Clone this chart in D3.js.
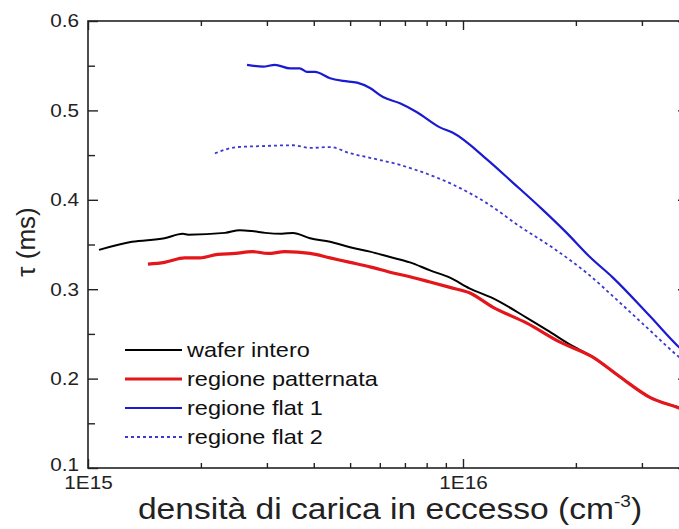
<!DOCTYPE html>
<html>
<head>
<meta charset="utf-8">
<title>Tempo di vita vs densità di carica</title>
<script src="https://cdn.jsdelivr.net/npm/d3@7"></script>
<style>
  body { margin: 0; background: #fff; }
  svg { display: block; font-family: "Liberation Sans", Arial, sans-serif; }
  .axis path { display: none; }
  .axis line { stroke: #222; stroke-width: 1.4; }
  .axis text { fill: #222; font-size: 18.5px; font-family: "Liberation Sans", Arial, sans-serif; }
</style>
</head>
<body>
<svg id="chart"></svg>
<script>
// values (x in cm^-3, tau in ms)
var waferX = [1.07e15, 1.31e15, 1.60e15, 1.79e15, 1.85e15, 2.32e15, 2.54e15, 2.74e15, 2.97e15, 3.29e15, 3.52e15, 3.91e15, 4.42e15, 5.00e15, 5.65e15, 6.39e15, 7.22e15, 8.17e15, 9.23e15, 1.04e16, 1.20e16, 1.48e16, 1.68e16, 1.93e16, 2.22e16, 2.62e16, 3.15e16, 3.77e16];
var waferY = [0.344, 0.353, 0.357, 0.362, 0.361, 0.363, 0.366, 0.365, 0.363, 0.362, 0.363, 0.357, 0.353, 0.347, 0.342, 0.336, 0.330, 0.321, 0.313, 0.301, 0.290, 0.268, 0.254, 0.238, 0.224, 0.202, 0.179, 0.168];

var pattX = [1.445e15, 1.60e15, 1.81e15, 1.99e15, 2.22e15, 2.47e15, 2.74e15, 3.02e15, 3.35e15, 3.91e15, 4.42e15, 5.00e15, 5.65e15, 6.39e15, 7.22e15, 8.17e15, 9.23e15, 1.04e16, 1.20e16, 1.48e16, 1.81e16, 2.22e16, 2.62e16, 3.15e16, 3.77e16, 3.98e16];
var pattY = [0.328, 0.330, 0.335, 0.335, 0.339, 0.340, 0.342, 0.340, 0.342, 0.340, 0.335, 0.330, 0.325, 0.319, 0.314, 0.308, 0.302, 0.296, 0.280, 0.262, 0.241, 0.224, 0.202, 0.179, 0.167, 0.163];

var flat1X = [2.655e15, 2.93e15, 3.15e15, 3.46e15, 3.67e15, 3.84e15, 4.03e15, 4.42e15, 4.79e15, 5.22e15, 5.65e15, 6.12e15, 6.79e15, 7.54e15, 8.68e15, 9.40e15, 1.16e16, 1.36e16, 1.63e16, 1.89e16, 2.18e16, 2.51e16, 3.15e16, 3.77e16, 3.98e16];
var flat1Y = [0.551, 0.549, 0.551, 0.547, 0.547, 0.543, 0.543, 0.536, 0.533, 0.531, 0.525, 0.515, 0.508, 0.498, 0.481, 0.475, 0.445, 0.419, 0.389, 0.363, 0.336, 0.313, 0.270, 0.235, 0.226];

var flat2X = [2.18e15, 2.50e15, 2.88e15, 3.52e15, 3.91e15, 4.42e15, 5.00e15, 5.65e15, 6.79e15, 7.54e15, 9.40e15, 1.16e16, 1.42e16, 1.74e16, 2.14e16, 2.62e16, 3.15e16, 3.77e16, 3.98e16];
var flat2Y = [0.452, 0.459, 0.460, 0.461, 0.458, 0.459, 0.452, 0.447, 0.439, 0.433, 0.417, 0.396, 0.370, 0.346, 0.318, 0.285, 0.254, 0.224, 0.216];

var seriesNames = ["wafer intero", "regione patternata", "regione flat 1", "regione flat 2"];

var xMajor = [1e15, 1e16];
var xMajorLabels = ["1E15", "1E16"];
var xMinor = [2e15, 3e15, 4e15, 5e15, 6e15, 7e15, 8e15, 9e15, 2e16, 3e16];
var yMajor = [0.1, 0.2, 0.3, 0.4, 0.5, 0.6];
var yMinor = [0.15, 0.25, 0.35, 0.45, 0.55];

var W = 679, H = 529;
var plotL = 88, plotR = 688, plotT = 21, plotB = 468;
var stretch = 1.12; // the original text is a bit wider than Arial

var svg = d3.select("#chart").attr("width", W).attr("height", H);

var x = d3.scaleLog().domain([1e15, Math.pow(10, 16.6)]).range([plotL, plotR]);
var y = d3.scaleLinear().domain([0.1, 0.6]).range([plotB, plotT]);

// clip to plot area
svg.append("clipPath").attr("id", "plotclip")
  .append("rect").attr("x", plotL).attr("y", plotT).attr("width", plotR - plotL).attr("height", plotB - plotT);

var series = [
  {name: seriesNames[0], xs: waferX, ys: waferY, color: "#000000", width: 2, dash: null},
  {name: seriesNames[1], xs: pattX, ys: pattY, color: "#e3161b", width: 3.2, dash: null},
  {name: seriesNames[2], xs: flat1X, ys: flat1Y, color: "#1a1ad0", width: 2.2, dash: null},
  {name: seriesNames[3], xs: flat2X, ys: flat2Y, color: "#3a3ad0", width: 1.8, dash: "3,3"}
];

var line = d3.line()
  .x(function(d) { return x(d[0]); })
  .y(function(d) { return y(d[1]); })
  .curve(d3.curveMonotoneX);

svg.append("g").attr("clip-path", "url(#plotclip)")
  .selectAll("path")
  .data(series)
  .enter()
  .append("path")
  .attr("fill", "none")
  .attr("stroke", function(d) { return d.color; })
  .attr("stroke-width", function(d) { return d.width; })
  .attr("stroke-dasharray", function(d) { return d.dash; })
  .attr("stroke-linejoin", "round")
  .attr("d", function(d) { return line(d.xs.map(function(v, i) { return [v, d.ys[i]]; })); });

// axes: ticks point inward
var xAx = svg.append("g").attr("class", "axis")
  .attr("transform", "translate(0," + plotB + ")")
  .call(d3.axisBottom(x).tickValues(xMajor).tickSize(-9).tickPadding(8)
    .tickFormat(function(d, i) { return xMajorLabels[i]; }));
xAx.selectAll("text").attr("transform", "scale(" + stretch + ",1)");
svg.append("g").attr("class", "axis")
  .attr("transform", "translate(0," + plotB + ")")
  .call(d3.axisBottom(x).tickValues(xMinor).tickSize(-5).tickFormat(""));
svg.append("g").attr("class", "axis")
  .attr("transform", "translate(0," + plotT + ")")
  .call(d3.axisTop(x).tickValues(xMajor).tickSize(-9).tickFormat(""));
svg.append("g").attr("class", "axis")
  .attr("transform", "translate(0," + plotT + ")")
  .call(d3.axisTop(x).tickValues(xMinor).tickSize(-5).tickFormat(""));

var yAx = svg.append("g").attr("class", "axis")
  .attr("transform", "translate(" + plotL + ",0)")
  .call(d3.axisLeft(y).tickValues(yMajor).tickSize(-10).tickPadding(8).tickFormat(d3.format(".1f")));
yAx.selectAll("text").attr("transform", "scale(" + stretch + ",1)");
yAx.selectAll("text").filter(function(d) { return d === 0.1; }).attr("dy", "0.12em");
svg.append("g").attr("class", "axis")
  .attr("transform", "translate(" + plotL + ",0)")
  .call(d3.axisLeft(y).tickValues(yMinor).tickSize(-7).tickFormat(""));
svg.append("g").attr("class", "axis")
  .attr("transform", "translate(" + plotR + ",0)")
  .call(d3.axisRight(y).tickValues(yMajor).tickSize(-10).tickFormat(""));

// frame
svg.append("rect")
  .attr("x", plotL).attr("y", plotT)
  .attr("width", plotR - plotL).attr("height", plotB - plotT)
  .attr("fill", "none").attr("stroke", "#222").attr("stroke-width", 1.6);

// axis titles
var xt = svg.append("text")
  .attr("transform", "translate(390,519) scale(" + stretch + ",1)")
  .attr("text-anchor", "middle")
  .attr("font-size", 30).attr("fill", "#222")
  .text("densità di carica in eccesso (cm");
xt.append("tspan").attr("dy", -12).attr("font-size", 17).text("-3");
xt.append("tspan").attr("dy", 12).text(")");

svg.append("text")
  .attr("transform", "translate(35,242) rotate(-90)")
  .attr("text-anchor", "middle")
  .attr("font-size", 26).attr("fill", "#222")
  .text("τ (ms)");

// legend
var leg = svg.append("g").attr("transform", "translate(125,350)");
var rows = leg.selectAll("g").data(series).enter().append("g")
  .attr("transform", function(d, i) { return "translate(0," + (i * 29) + ")"; });
rows.append("line")
  .attr("x1", 0).attr("x2", 57).attr("y1", 0).attr("y2", 0)
  .attr("stroke", function(d) { return d.color; })
  .attr("stroke-width", function(d) { return d.width; })
  .attr("stroke-dasharray", function(d) { return d.dash; });
rows.append("text")
  .attr("transform", "translate(62,0) scale(" + stretch + ",1)")
  .attr("dy", "0.35em")
  .attr("font-size", 21).attr("fill", "#111")
  .text(function(d) { return d.name; });
</script>
</body>
</html>
